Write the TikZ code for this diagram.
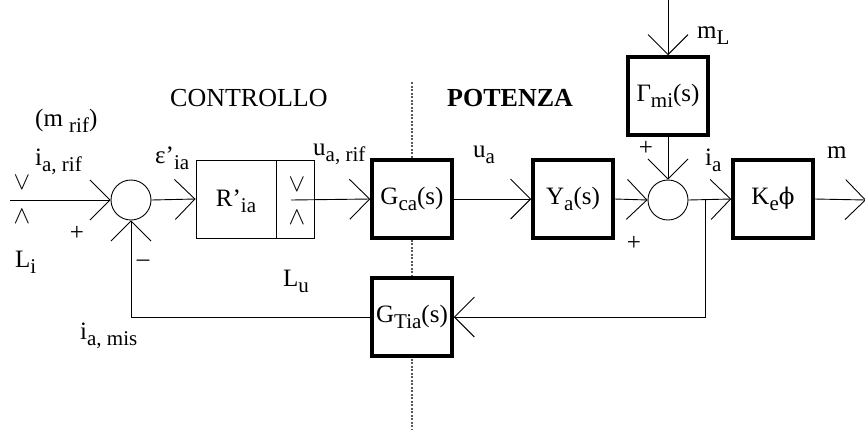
\documentclass[tikz,border=0pt]{standalone}
\usepackage{fontspec}
\setmainfont{Liberation Serif}
\newfontfamily\dvs{DejaVu Serif}
\usetikzlibrary{arrows.meta}
\newcommand\sbx[1]{\raisebox{-6pt}{\fontsize{21}{21}\selectfont #1}}
\begin{document}
\begin{tikzpicture}[x=1pt,y=-1pt,
 lbl/.style={font=\fontsize{25}{28}\selectfont, inner sep=0pt, anchor=base west},
 sym/.style={font=\fontsize{24}{26}\selectfont, inner sep=0pt},
 ttl/.style={font=\fontsize{26}{28}\selectfont, inner sep=0pt, anchor=base west},
 blk/.style={draw, line width=3.5pt, fill=white, minimum width=80pt, minimum height=78pt, inner sep=0pt, font=\fontsize{25}{28}\selectfont},
 sumc/.style={draw, circle, line width=0.9pt, fill=white, minimum size=40pt, inner sep=0pt},
 arr/.style={line width=0.9pt, -{Straight Barb[length=20pt,width=40pt,line width=0.9pt]}},
 ln/.style={line width=0.9pt},
 divline/.style={line width=1.1pt, gray!70!black, dash pattern=on 2pt off 1.5pt}
]
\useasboundingbox (0,0) rectangle (865,432);
% separator
\coordinate (dtop) at (412,82);
\coordinate (dbot) at (412,430);
\draw[divline] (dtop) -- (dbot);
% blocks
\node[sumc] (s1) at (131,200) {};
\node[draw, line width=0.9pt, fill=white, minimum width=118pt, minimum height=78pt, inner sep=0pt] (R) at (255,199) {};
\draw[ln] ([xshift=81pt]R.north west) -- ([xshift=81pt]R.south west);
\node[font=\fontsize{25}{28}\selectfont, inner sep=0pt] (Rl) at (236,201) {R’\sbx{ia}};
\node[sym] (rv) at (297,185) {$\vee$};
\node[sym] (rw) at (297,218) {$\wedge$};
\coordinate (rout) at (291,200);
\node[blk] (Gca) at (412,199) {G\sbx{ca}(s)};
\node[blk] (Ya) at (573,199) {Y\sbx{a}(s)};
\node[blk] (Gm) at (668,96) {Γ\sbx{mi}(s)};
\node[sumc] (s2) at (668,200) {};
\node[blk] (Ke) at (773,199) {K\sbx{e}{\dvs\fontsize{23}{26}\selectfont ϕ}};
\node[blk] (Gt) at (412,317) {G\sbx{Tia}(s)};
% coordinates
\coordinate (inL) at (10,200);
\coordinate (mLtop) at (668,0);
\coordinate (br) at (705,200);
\coordinate (outR) at (866,200);
% connectors
\draw[arr] (inL) -- (s1.west);
\draw[arr] (s1.east) -- (R.west);
\draw[arr] (rout) -- (Gca.west);
\draw[arr] (Gca.east) -- (Ya.west);
\draw[arr] (Ya.east) -- (s2.west);
\draw[arr] (mLtop) -- (Gm.north);
\draw[arr] (Gm.south) -- (s2.north);
\draw[arr] (s2.east) -- (Ke.west);
\draw[arr] (Ke.east) -- (outR);
\draw[arr] (br) |- (Gt.east);
\draw[arr] (Gt.west) -| (s1.south);
% labels
\node[ttl] (tc) at (170,106) {CONTROLLO};
\node[ttl] (tp) at (447,106) {\bfseries POTENZA};
\node[lbl] (lm) at (35,126) {(m \sbx{rif})};
\node[lbl] (li) at (35,165) {i\sbx{a, rif}};
\node[sym] (iv) at (22,183) {$\vee$};
\node[sym] (iw) at (22,217) {$\wedge$};
\node[lbl] (lL) at (15,267) {L\sbx{i}};
\node[font=\fontsize{25}{28}\selectfont, inner sep=0pt] (p1) at (77,233) {+};
\node[font=\fontsize{25}{28}\selectfont, inner sep=0pt] (m1) at (143,263) {–};
\node[lbl] (le) at (155,163) {ε’\sbx{ia}};
\node[lbl] (lu) at (313,155) {u\sbx{a, rif}};
\node[lbl] (lLu) at (283,286) {L\sbx{u}};
\node[lbl] (lua) at (473,157) {u\sbx{a}};
\node[lbl] (lmL) at (697,38) {m\sbx{L}};
\node[font=\fontsize{25}{28}\selectfont, inner sep=0pt] (p2) at (646,148) {+};
\node[font=\fontsize{25}{28}\selectfont, inner sep=0pt] (p3) at (634,243) {+};
\node[lbl] (lia) at (705,165) {i\sbx{a}};
\node[lbl] (lmo) at (827,158) {m};
\node[lbl] (lim) at (80,339) {i\sbx{a, mis}};
\end{tikzpicture}
\end{document}
